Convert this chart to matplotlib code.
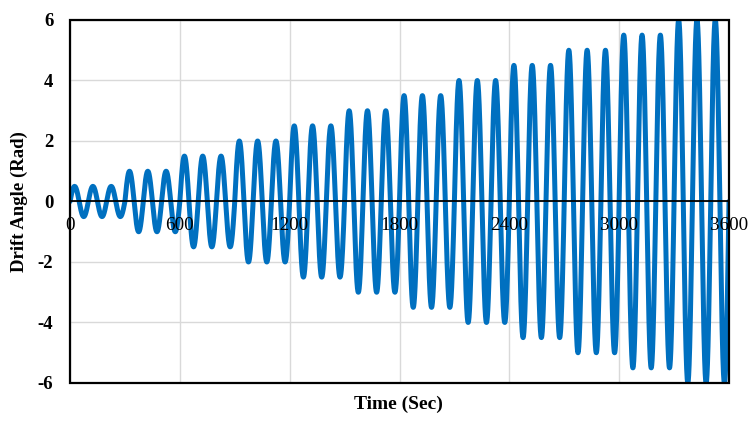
import numpy as np
import matplotlib
matplotlib.use("Agg")
import matplotlib.pyplot as plt
from matplotlib.patches import Rectangle

# Data: loading protocol
amplitudes = [0.5, 1.0, 1.5, 2.0, 2.5, 3.0, 3.5, 4.0, 4.5, 5.0, 5.5, 6.0]  # rad
cycles_per_amplitude = 3
period_sec = 100
x_ticks = [0, 600, 1200, 1800, 2400, 3000, 3600]
y_ticks = [-6, -4, -2, 0, 2, 4, 6]

# Build the sinusoidal history
ts, ys = [], []
for i, a in enumerate(amplitudes):
    t0 = i * cycles_per_amplitude * period_sec
    t = np.linspace(t0, t0 + cycles_per_amplitude * period_sec, 600)
    ts.append(t)
    ys.append(a * np.sin(2 * np.pi * (t - t0) / period_sec))
t = np.concatenate(ts)
y = np.concatenate(ys)

plt.rcParams['font.family'] = ['Liberation Serif', 'DejaVu Serif']
plt.rcParams['axes.unicode_minus'] = False

fig = plt.figure(figsize=(7.48, 4.21), dpi=100)
ax = fig.add_axes([0.0936, 0.0903, 0.9746 - 0.0936, 0.9525 - 0.0903])

ax.set_xlim(0, 3600)
ax.set_ylim(-6, 6)
ax.set_xticks(x_ticks)
ax.set_yticks(y_ticks)
ax.grid(True, color='#D9D9D9', linewidth=1.0)
ax.set_axisbelow(True)

ax.plot(t, y, color='#0070C0', linewidth=3.6, solid_joinstyle='round',
        solid_capstyle='round', zorder=3)

# zero line
ax.axhline(0, color='black', linewidth=1.3, zorder=4)

for s in ['top', 'right', 'left', 'bottom']:
    ax.spines[s].set_visible(False)

# outer frame
frame = Rectangle((0, 0), 1, 1, transform=ax.transAxes, fill=False,
                  edgecolor='black', linewidth=1.6, clip_on=False, zorder=5)
ax.add_patch(frame)

# x tick labels sit just under the zero line, drawn above the curve
ax.tick_params(axis='x', length=0, labelbottom=False)
for xt in x_ticks:
    ax.annotate(str(xt), xy=(xt, 0), xytext=(0, -16), textcoords='offset pixels',
                ha='center', va='top', fontsize=13.7, zorder=6,
                annotation_clip=False)

ax.tick_params(axis='y', length=0, pad=12, labelsize=13.5)
for lbl in ax.get_yticklabels():
    lbl.set_fontweight('bold')

ax.set_ylabel('Drift Angle (Rad)', fontsize=13.5, fontweight='bold')
ax.yaxis.set_label_coords(-0.064, 0.5)
fig.text(0.533, 0.02, 'Time (Sec)', fontsize=14, fontweight='bold',
         ha='center', va='bottom')

fig.savefig('out.png', dpi=100)
